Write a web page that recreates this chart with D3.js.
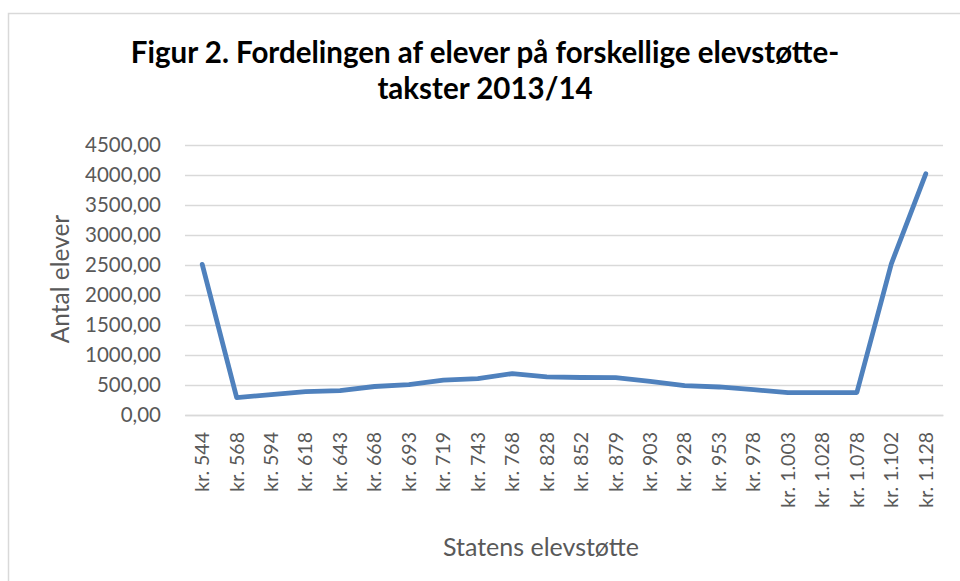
<!DOCTYPE html>
<html>
<head>
<meta charset="utf-8">
<script src="https://cdn.jsdelivr.net/npm/d3@7"></script>
<style>
  body { margin: 0; background: #fff; }
  text { font-family: Lato, "Open Sans", sans-serif; }
</style>
</head>
<body>
<div id="chart"></div>
<script>
// data
var categories = ["kr. 544", "kr. 568", "kr. 594", "kr. 618", "kr. 643", "kr. 668", "kr. 693",
  "kr. 719", "kr. 743", "kr. 768", "kr. 828", "kr. 852", "kr. 879", "kr. 903", "kr. 928",
  "kr. 953", "kr. 978", "kr. 1.003", "kr. 1.028", "kr. 1.078", "kr. 1.102", "kr. 1.128"];
var elever = [2510, 290, 340, 390, 405, 475, 505, 580, 605, 690, 635, 625, 622, 562, 490,
  467, 423, 373, 373, 375, 2520, 4020];
var yTicks = [0, 500, 1000, 1500, 2000, 2500, 3000, 3500, 4000, 4500];

var W = 960, H = 581;
var margin = {top: 145, right: 17, bottom: 166, left: 185},
    width = W - margin.left - margin.right,
    height = H - margin.top - margin.bottom;

var svg = d3.select("#chart")
    .append("svg")
    .attr("width", W)
    .attr("height", H);

// outer chart frame
svg.append("rect")
    .attr("x", 8.5).attr("y", 13.5)
    .attr("width", 980).attr("height", 600)
    .attr("fill", "none")
    .attr("stroke", "#d9d9d9")
    .attr("stroke-width", 1.5);

// title
var title = svg.append("text")
    .attr("text-anchor", "middle")
    .attr("font-weight", "bold")
    .attr("font-size", 29.5)
    .attr("fill", "#000");
title.append("tspan").attr("x", 485).attr("y", 63)
    .text("Figur 2. Fordelingen af elever på forskellige elevstøtte-");
title.append("tspan").attr("x", 485).attr("y", 99)
    .text("takster 2013/14");

var g = svg.append("g")
    .attr("transform", "translate(" + margin.left + "," + margin.top + ")");

var x = d3.scaleBand()
    .domain(categories)
    .range([0, width]);

var y = d3.scaleLinear()
    .domain([0, 4500])
    .range([height, 0]);

// gridlines + y labels
var yAxis = g.append("g")
    .call(d3.axisLeft(y)
        .tickValues(yTicks)
        .tickSize(-width)
        .tickPadding(24)
        .tickFormat(function(d) { return d.toFixed(2).replace(".", ","); }));
yAxis.select(".domain").remove();
yAxis.selectAll("line").attr("stroke", "#d9d9d9").attr("stroke-width", 1.3);
yAxis.selectAll("text")
    .attr("fill", "#595959")
    .attr("font-size", 20.5);

// x labels
var xAxis = g.append("g")
    .attr("transform", "translate(0," + height + ")")
    .call(d3.axisBottom(x).tickSize(0));
xAxis.select(".domain").attr("stroke", "#d9d9d9").attr("stroke-width", 1.3);
xAxis.selectAll("text")
    .attr("fill", "#595959")
    .attr("font-size", 19.5)
    .attr("text-anchor", "end")
    .attr("dy", "0.35em")
    .attr("transform", "translate(0,17) rotate(-90)")
    .attr("x", 0)
    .attr("y", 0);

// line
var line = d3.line()
    .x(function(d, i) { return x(categories[i]) + x.bandwidth() / 2; })
    .y(function(d) { return y(d); });

g.append("path")
    .datum(elever)
    .attr("d", line)
    .attr("fill", "none")
    .attr("stroke", "#4f81bd")
    .attr("stroke-width", 4.8)
    .attr("stroke-linejoin", "round")
    .attr("stroke-linecap", "round");

// axis titles
svg.append("text")
    .attr("text-anchor", "middle")
    .attr("font-size", 24.5)
    .attr("fill", "#595959")
    .attr("transform", "translate(69,279) rotate(-90)")
    .text("Antal elever");

svg.append("text")
    .attr("x", 541)
    .attr("y", 556)
    .attr("text-anchor", "middle")
    .attr("font-size", 25)
    .attr("fill", "#595959")
    .text("Statens elevstøtte");
</script>
</body>
</html>
